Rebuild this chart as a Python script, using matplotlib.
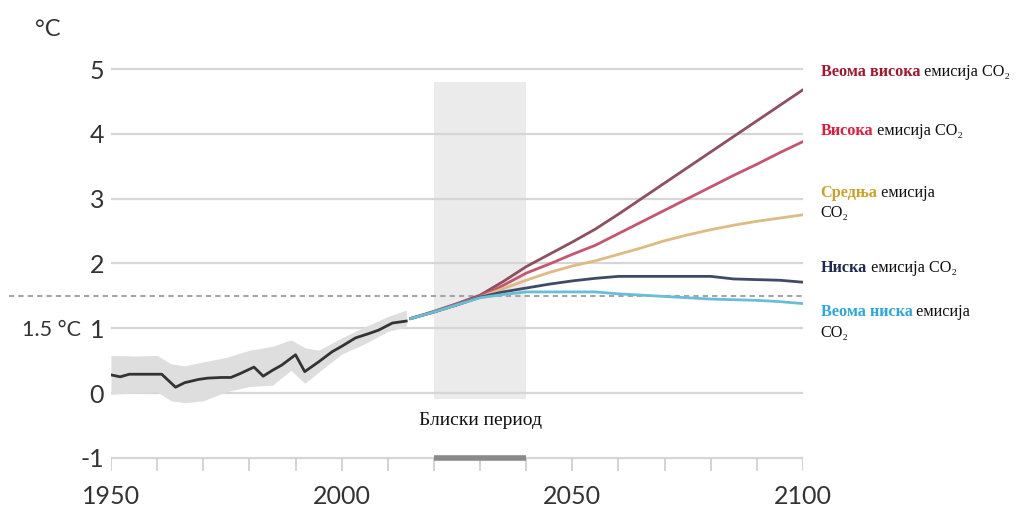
import numpy as np
import matplotlib
matplotlib.use('Agg')
import matplotlib.pyplot as plt

# observed warming (deg C) and its spread
hist_years = [1950, 1952, 1954, 1957, 1961, 1964, 1966, 1969, 1971, 1974, 1976, 1978, 1981,
              1983, 1985, 1987, 1990, 1992, 1995, 1998, 2000, 2003, 2006, 2008, 2011, 2014]
hist_vals = [0.28, 0.25, 0.29, 0.29, 0.29, 0.09, 0.16, 0.21, 0.23, 0.24, 0.24, 0.30, 0.40,
             0.26, 0.35, 0.43, 0.59, 0.33, 0.48, 0.64, 0.72, 0.85, 0.92, 0.97, 1.08, 1.11]

band_years = [1950, 1955, 1960, 1963, 1966, 1970, 1975, 1980, 1985, 1989, 1992, 1995, 2000, 2005, 2010, 2014]
band_upper = [0.58, 0.57, 0.58, 0.45, 0.42, 0.48, 0.55, 0.66, 0.72, 0.82, 0.70, 0.66, 0.85, 1.02, 1.18, 1.28]
band_lower = [-0.02, 0.00, 0.02, -0.12, -0.15, -0.12, 0.02, 0.10, 0.12, 0.35, 0.15, 0.32, 0.60, 0.76, 0.95, 1.02]

# scenario projections
proj_years = [2015, 2020, 2025, 2030, 2035, 2040, 2045, 2050, 2055, 2060,
              2065, 2070, 2075, 2080, 2085, 2090, 2095, 2100]
very_high = [1.15, 1.26, 1.38, 1.51, 1.72, 1.95, 2.14, 2.33, 2.53, 2.76, 3.00, 3.24, 3.48, 3.72, 3.96, 4.20, 4.44, 4.68]
high      = [1.15, 1.25, 1.37, 1.49, 1.66, 1.85, 1.99, 2.14, 2.28, 2.46, 2.64, 2.82, 3.00, 3.18, 3.36, 3.53, 3.71, 3.88]
medium    = [1.15, 1.25, 1.36, 1.48, 1.61, 1.74, 1.86, 1.96, 2.04, 2.14, 2.24, 2.35, 2.44, 2.52, 2.59, 2.65, 2.70, 2.75]
low       = [1.15, 1.25, 1.36, 1.48, 1.56, 1.62, 1.68, 1.73, 1.77, 1.80, 1.80, 1.80, 1.80, 1.80, 1.76, 1.75, 1.74, 1.71]
very_low  = [1.15, 1.25, 1.36, 1.47, 1.52, 1.56, 1.56, 1.56, 1.56, 1.53, 1.51, 1.49, 1.47, 1.45, 1.44, 1.43, 1.41, 1.38]

near_term = (2020, 2040)
y_ticks = [-1, 0, 1, 2, 3, 4, 5]
x_minor = list(range(1950, 2101, 10))
x_labels = [1950, 2000, 2050, 2100]

scenarios = [
    (very_high, '#8e4f60', 'Веома висока', '#a3172e', 4.83, None),
    (high, '#c4566e', 'Висока', '#e31b3a', 3.92, None),
    (medium, '#ddbb82', 'Средња', '#c9a227', 2.97, 'split'),
    (low, '#3e4a68', 'Ниска', '#1e2a50', 1.81, None),
    (very_low, '#6bbcd8', 'Веома ниска', '#29a8df', 1.13, 'split'),
]

sans = ['Lato', 'DejaVu Sans']
serif = ['Liberation Serif', 'DejaVu Serif']

fig = plt.figure(figsize=(10.18, 5.17), dpi=100)
ax = fig.add_axes([0.109, 0.0518, 0.6798, 0.8774])
ax.set_xlim(1950, 2100)
ax.set_ylim(-1.5, 5.5)
for s in ax.spines.values():
    s.set_visible(False)

# near-term shading and bar on the axis
ax.axvspan(near_term[0], near_term[1], ymin=(-0.1 + 1.5) / 7, ymax=(4.8 + 1.5) / 7,
           color='#ebebeb', zorder=0, lw=0)
ax.plot(near_term, [-1, -1], color='#8a8a8a', lw=4, solid_capstyle='butt', zorder=3)

ax.set_yticks(y_ticks)
ax.set_yticklabels([str(v) for v in y_ticks], fontsize=18, color='#333333', family=sans)
ax.tick_params(axis='y', length=0, pad=5)
ax.set_xticks([])
ax.grid(axis='y', color='#d6d6d6', lw=1.6, zorder=1)
ax.set_axisbelow(True)

ax.vlines(x_minor, -1.2, -1, color='#cccccc', lw=1.2, zorder=2)
for yr in x_labels:
    ax.text(yr, -1.6, str(yr), ha='center', va='center', fontsize=18, color='#333333', family=sans)

# 1.5 degree line
ax.plot([1928, 2100], [1.5, 1.5], color='#a5a5a5', lw=1.5, ls=(0, (2.5, 2)), clip_on=False, zorder=2)

ax.fill_between(band_years, band_lower, band_upper, color='#dedede', lw=0, zorder=2)
ax.plot(hist_years, hist_vals, color='#333333', lw=2, zorder=4)

for vals, lc, word, wc, ly, mode in scenarios:
    ax.plot(proj_years, vals, color=lc, lw=2, zorder=4)

fig.text(48 / 1018, 1 - 30 / 517, '°C', ha='center', va='center', fontsize=17, color='#333333', family=sans)
ax.text(1930.7, 0.98, '1.5 °C', ha='left', va='center', fontsize=15.5, color='#333333', family=sans)
ax.text(2030, -0.42, 'Блиски период', ha='center', va='center', fontsize=14, color='#111111', family=serif)

# scenario labels
for vals, lc, word, wc, ly, mode in scenarios:
    t1 = ax.text(2103.8, ly, word, ha='left', va='bottom', fontsize=11.7, weight='bold',
                 color=wc, family=serif, clip_on=False)
    rest = ' емисија' if mode == 'split' else ' емисија CO₂'
    ax.annotate(rest, xy=(1, 0), xycoords=t1, ha='left', va='bottom', fontsize=11.7,
                color='#111111', family=serif, annotation_clip=False)
    if mode == 'split':
        ax.text(2103.8, ly - 0.32, 'CO₂', ha='left', va='bottom', fontsize=11.7,
                color='#111111', family=serif, clip_on=False)

fig.savefig('out.png', dpi=100, facecolor='white')
